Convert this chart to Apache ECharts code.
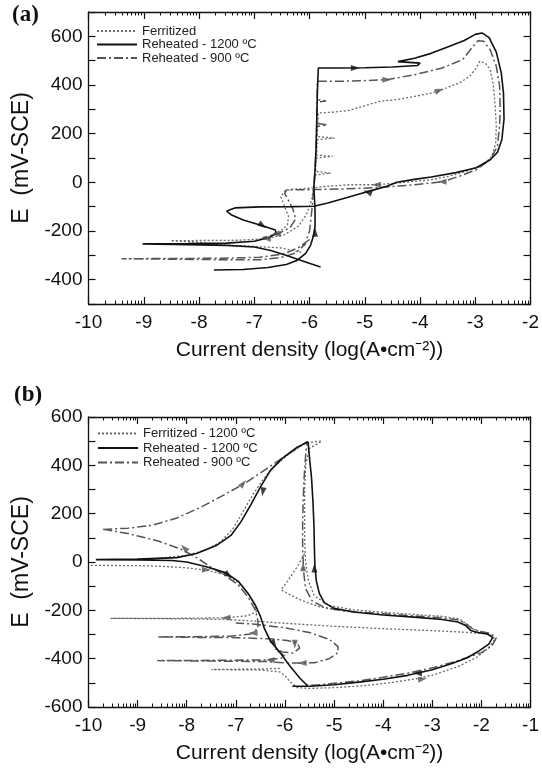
<!DOCTYPE html>
<html>
<head>
<meta charset="utf-8">
<script src="https://cdn.jsdelivr.net/npm/echarts@6/dist/echarts.min.js"></script>
<style>
html, body { margin: 0; padding: 0; background: #fff; }
#wrap { position: relative; width: 542px; height: 772px; }
#chartA { position: absolute; left: 0; top: 0; width: 542px; height: 386px; }
#chartB { position: absolute; left: 0; top: 386px; width: 542px; height: 386px; }
</style>
</head>
<body>
<div id="wrap">
  <div id="chartA"></div>
  <div id="chartB"></div>
</div>
<script>
// ---- axis labels ----
var yLabelsA = [-400, -200, 0, 200, 400, 600];
var yLabelsB = [-600, -400, -200, 0, 200, 400, 600];

// ---- panel (a) : [log i, E] ----
var reheated1200A = [
  [-7.73,-360],[-7.2,-358],[-6.75,-350],[-6.42,-338],[-6.22,-320],[-6.07,-292],[-5.98,-258],[-5.93,-222],
  [-5.9,-180],[-5.9,-120],[-5.91,-70],[-5.92,-20],[-5.9,50],[-5.88,150],[-5.87,250],[-5.86,350],[-5.85,420],
  [-5.84,470],[-5.5,470],[-5.0,471],[-4.5,474],[-4.05,480],[-4.0,490],[-4.4,496],[-4.1,510],[-3.8,530],
  [-3.5,556],[-3.2,583],[-3.0,608],[-2.88,614],[-2.75,595],[-2.62,535],[-2.53,450],[-2.49,367],[-2.48,260],
  [-2.52,175],[-2.6,123],[-2.73,93],[-2.98,60],[-3.35,40],[-3.8,22],[-4.1,12],[-4.42,0],[-4.6,-16],
  [-4.85,-32],[-5.1,-48],[-5.35,-64],[-5.67,-85],[-5.92,-98],[-6.3,-100],[-6.9,-101],[-7.35,-105],
  [-7.5,-118],[-7.42,-133],[-7.2,-155],[-6.85,-178],[-6.62,-196],[-6.6,-210],[-6.75,-228],[-7.0,-242],
  [-7.5,-250],[-8.2,-252],[-9.02,-253],[-8.2,-256],[-7.5,-259],[-7.0,-266],[-6.7,-280],[-6.4,-302],
  [-6.1,-325],[-5.8,-348]
];
var reheated900A = [
  [-6.0,-235],[-6.2,-268],[-6.45,-293],[-6.9,-308],[-7.6,-312],[-8.5,-313],[-9.4,-314],[-8.5,-316],
  [-7.6,-318],[-6.9,-318],[-6.5,-308],[-6.25,-290],[-6.08,-255],[-6.0,-200],[-5.96,-120],[-5.93,-40],
  [-5.9,50],[-5.88,150],[-5.87,230],[-5.68,236],[-5.87,242],[-5.86,330],[-5.7,334],[-5.86,340],
  [-5.86,415],[-5.5,415],[-5.0,418],[-4.6,422],[-4.1,442],[-3.6,470],[-3.23,504],[-3.04,559],[-2.95,582],
  [-2.85,580],[-2.73,545],[-2.62,477],[-2.56,395],[-2.55,300],[-2.56,230],[-2.6,148],[-2.73,93],
  [-2.98,52],[-3.29,25],[-3.6,2],[-4.1,-10],[-4.73,-21],[-5.35,-27],[-5.98,-30],[-6.41,-30],[-6.45,-45],
  [-6.38,-75],[-6.3,-110],[-6.25,-150],[-6.35,-185],[-6.55,-210],[-6.85,-228]
];
var ferritizedA = [
  [-6.15,-288],[-6.5,-270],[-7.0,-263],[-7.6,-258],[-8.0,-246],[-8.51,-240],[-8.0,-239],[-7.3,-238],
  [-6.8,-232],[-6.45,-215],[-6.2,-180],[-6.05,-130],[-5.96,-70],[-5.92,-10],[-5.9,30],[-5.62,38],
  [-5.89,45],[-5.88,100],[-5.58,107],[-5.87,112],[-5.86,175],[-5.55,182],[-5.86,188],[-5.85,240],
  [-5.84,285],[-5.6,288],[-5.3,295],[-5.04,312],[-4.73,333],[-4.42,340],[-4.1,353],[-3.79,367],
  [-3.6,381],[-3.48,392],[-3.29,408],[-3.1,436],[-2.98,470],[-2.92,497],[-2.82,490],[-2.73,463],
  [-2.67,395],[-2.64,312],[-2.62,230],[-2.63,162],[-2.7,107],[-2.85,73],[-3.17,45],[-3.48,25],
  [-3.79,11],[-4.1,4],[-4.42,-3],[-4.79,-10],[-5.29,-10],[-5.67,-16],[-5.98,-24],[-6.3,-28],
  [-6.45,-35],[-6.52,-60],[-6.45,-100],[-6.38,-140],[-6.4,-175],[-6.5,-195],[-6.68,-215]
];

// ---- panel (b) ----
var reheated1200B = [
  [-5.85,-514],[-5.49,-514],[-5.0,-508],[-4.5,-497],[-4.0,-485],[-3.5,-469],[-3.0,-446],[-2.6,-420],
  [-2.3,-397],[-2.05,-368],[-1.85,-340],[-1.77,-312],[-1.88,-298],[-2.08,-292],[-2.22,-283],[-2.32,-263],
  [-2.48,-248],[-2.8,-238],[-3.3,-229],[-4.0,-219],[-4.6,-207],[-5.0,-192],[-5.2,-168],[-5.3,-130],
  [-5.36,-80],[-5.39,-20],[-5.4,50],[-5.41,150],[-5.43,250],[-5.46,350],[-5.5,430],[-5.53,497],
  [-5.75,475],[-6.05,430],[-6.3,378],[-6.5,310],[-6.7,235],[-6.9,165],[-7.1,110],[-7.4,68],[-7.8,35],
  [-8.2,18],[-9.0,12],[-9.85,10],[-9.0,8],[-8.3,6],[-8.0,0],[-7.6,-20],[-7.2,-45],[-6.95,-80],
  [-6.75,-130],[-6.6,-180],[-6.5,-225],[-6.42,-275],[-6.3,-325],[-6.1,-375],[-5.9,-430],[-5.7,-480],
  [-5.55,-510]
];
var reheated900B = [
  [-9.7,135],[-9.2,140],[-8.7,152],[-8.2,182],[-7.7,228],[-7.2,282],[-6.8,328],[-6.4,382],[-6.0,438],
  [-5.7,478],[-5.55,498],[-5.58,440],[-5.61,350],[-5.63,250],[-5.64,150],[-5.64,50],[-5.62,-40],
  [-5.58,-110],[-5.45,-160],[-5.2,-188],[-4.8,-203],[-4.0,-214],[-3.3,-224],[-2.8,-231],[-2.45,-240],
  [-2.3,-258],[-2.18,-277],[-2.0,-288],[-1.8,-297],[-1.7,-315],[-1.78,-345],[-2.0,-375],[-2.5,-410],
  [-3.0,-438],[-3.5,-460],[-4.0,-477],[-4.5,-492],[-5.0,-502],[-5.4,-510],[-5.6,-508]
];
var reheated900B2 = [
  [-9.7,135],[-9.2,118],[-8.6,88],[-8.1,52],[-7.8,18],[-7.5,-22],[-7.2,-58],[-6.95,-95],[-6.75,-145],
  [-6.6,-200],[-6.55,-245],[-6.55,-275],[-6.7,-298],[-7.1,-307],[-7.8,-309],[-8.6,-310],[-7.8,-312],
  [-7.0,-313],[-6.3,-318],[-5.95,-325],[-5.75,-335],[-5.7,-356],[-5.84,-377],[-6.05,-372],[-6.2,-360],
  [-6.0,-390],[-6.1,-400],[-6.4,-405],[-7.5,-407],[-8.6,-408],[-7.5,-410],[-6.4,-412],[-5.9,-418],
  [-5.4,-417],[-5.1,-400],[-4.92,-375],[-4.92,-350],[-5.1,-320],[-5.5,-292],[-6.0,-272],[-6.6,-258],
  [-7.0,-252]
];
var ferritizedB = [
  [-9.95,-14],[-9.0,-15],[-8.5,-18],[-8.0,-24],[-7.6,-34],[-7.2,-52],[-6.95,-85],[-6.75,-130],
  [-6.62,-175],[-6.58,-205],[-6.75,-222],[-7.2,-231],[-8.2,-233],[-9.55,-233],[-8.2,-235],[-7.2,-238],
  [-6.6,-245],[-5.9,-255],[-5.0,-266],[-4.0,-276],[-3.0,-284],[-2.3,-291],[-1.85,-298],[-1.72,-318],
  [-1.85,-355],[-2.1,-395],[-2.5,-435],[-3.0,-468],[-3.3,-482],[-3.8,-498],[-4.4,-512],[-5.0,-520],
  [-5.5,-523],[-5.75,-520],[-5.9,-495],[-6.0,-470],[-6.1,-455],[-6.5,-447],[-7.5,-445],[-6.5,-443],
  [-6.1,-440]
];
var ferritizedB2 = [
  [-8.6,15],[-8.0,28],[-7.6,50],[-7.3,85],[-7.05,140],[-6.85,210],[-6.65,280],[-6.45,340],[-6.2,400],
  [-5.9,450],[-5.6,490],[-5.4,498],[-5.25,500],[-5.5,470],[-5.58,400],[-5.6,300],[-5.6,200],[-5.6,100],
  [-5.58,0],[-5.52,-80],[-5.4,-140],[-5.1,-180],[-4.6,-198],[-4.0,-208],[-3.3,-218],[-2.8,-225],
  [-2.45,-235],[-2.25,-265],[-2.1,-285],[-1.9,-295]
];
var ferritizedB3 = [
  [-5.6,35],[-5.75,-20],[-5.95,-80],[-6.08,-115],[-5.9,-135],[-5.65,-160],[-5.3,-185],[-4.9,-200]
];

// ---- arrow heads : [log i, E, direction in degrees] ----
var arrowsBlackA = [[-5.17,470,0],[-4.95,-40,160],[-6.85,-178,-35],[-5.9,-205,90]];
var arrowsGreyA = [[-4.6,422,0],[-3.6,2,180],[-3.65,378,20],[-4.79,-10,180],[-6.6,-212,180],[-6.78,-232,180]];
var arrowsBlackB = [[-6.45,290,-100],[-5.4,-25,90],[-7.15,-55,-40],[-6.22,-340,-60],[-3.3,-460,175]];
var arrowsGreyB = [[-6.85,325,50],[-5.63,-20,90],[-7.6,-32,0],[-8.05,58,135],[-7.2,-231,180],
  [-6.65,-294,180],[-6.3,-405,180],[-5.65,-418,180],[-3.2,-484,10],[-5.8,-340,-90]];

function logMinor(from, to) {
  var out = [];
  for (var d = from; d < to; d++) {
    for (var k = 2; k <= 9; k++) out.push(d + Math.log10(k));
  }
  return out;
}

var FONT = "'Liberation Sans', Arial, sans-serif";
var INK = '#111';

function xAxes(min, max, pos) {
  var main = {
    type: 'value', min: min, max: max, interval: 1, position: pos,
    axisLine: { show: true, onZero: false, lineStyle: { color: INK, width: 1.3 } },
    splitLine: { show: false },
    axisTick: { show: true, inside: true, length: 7, lineStyle: { color: INK, width: 1.2 } },
    axisLabel: { show: pos === 'bottom', fontSize: 19, margin: 9, color: INK, fontFamily: FONT }
  };
  if (pos === 'bottom') {
    main.name = 'Current density (log(A\u2022cm\u207B\u00B2))';
    main.nameLocation = 'middle';
    main.nameGap = 36;
    main.nameTextStyle = { fontSize: 21, color: INK, fontFamily: FONT };
  }
  var sub = {
    type: 'value', min: min, max: max, position: pos,
    axisLine: { show: false, onZero: false }, splitLine: { show: false }, axisLabel: { show: false },
    axisTick: { show: true, inside: true, length: 3.5, customValues: logMinor(min, max),
      lineStyle: { color: INK, width: 1 } }
  };
  return [main, sub];
}

function yAxis(min, max, labels, pos) {
  var ax = {
    type: 'value', min: min, max: max, interval: 100, position: pos,
    axisLine: { show: true, onZero: false, lineStyle: { color: INK, width: 1.3 } },
    splitLine: { show: false },
    axisTick: { show: true, inside: true, length: 7, lineStyle: { color: INK, width: 1.2 } },
    axisLabel: { show: pos === 'left', fontSize: 19, margin: 6, color: INK, fontFamily: FONT,
      formatter: function (v) { return labels.indexOf(v) >= 0 ? String(v) : ''; } }
  };
  if (pos === 'left') {
    ax.name = 'E  (mV-SCE)';
    ax.nameLocation = 'middle';
    ax.nameRotate = 90;
    ax.nameGap = 53;
    ax.nameTextStyle = { fontSize: 23, color: INK, fontFamily: FONT };
  }
  return ax;
}

var solidStyle = { color: '#111', width: 1.6, type: 'solid' };
var dotStyle = { color: '#6a6a6a', width: 1.3, type: [2, 2] };
var dashDotStyle = { color: '#555', width: 1.5, type: [9, 3, 2, 3] };

function curve(name, data, style, z) {
  return {
    name: name, type: 'line', data: data, symbol: 'none', showSymbol: false,
    lineStyle: style, itemStyle: { color: style.color }, z: z, animation: false
  };
}

function arrows(list, color) {
  return {
    type: 'scatter', symbol: 'triangle', symbolSize: [6, 9],
    silent: true, z: 6, itemStyle: { color: color }, animation: false,
    data: list.map(function (a) { return { value: [a[0], a[1]], symbolRotate: a[2] - 90 }; })
  };
}

function panel(opts) {
  return {
    backgroundColor: '#fff',
    animation: false,
    grid: { left: 88.5, right: 9, top: opts.top, height: opts.height },
    xAxis: [].concat(xAxes(-10, opts.xMax, 'bottom'), xAxes(-10, opts.xMax, 'top')),
    yAxis: [yAxis(opts.yMin, opts.yMax, opts.yLabels, 'left'), yAxis(opts.yMin, opts.yMax, opts.yLabels, 'right')],
    legend: {
      orient: 'vertical', padding: 0, itemWidth: 40, itemHeight: 10,
      left: opts.legendLeft, top: opts.legendTop, itemGap: opts.legendGap,
      itemStyle: { opacity: 0 },
      textStyle: { fontSize: 13, lineHeight: 12, color: '#222', fontFamily: FONT },
      data: opts.legend
    },
    graphic: [{ type: 'text', left: opts.tagLeft, top: opts.tagTop,
      style: { text: opts.tag, font: 'bold 23px "Liberation Serif", serif', fill: INK } }],
    series: opts.series
  };
}

var nameF = 'Ferritized', nameFB = 'Ferritized - 1200 \u00BAC';
var name12 = 'Reheated - 1200 \u00BAC', name9 = 'Reheated - 900 \u00BAC';

var chartA = echarts.init(document.getElementById('chartA'));
chartA.setOption(panel({
  top: 12, height: 292, xMax: -2, yMin: -500, yMax: 700, yLabels: yLabelsA,
  legendLeft: 96, legendTop: 24.5, legendGap: 0.5, legend: [nameF, name12, name9],
  tag: '(a)', tagLeft: 12, tagTop: 4,
  series: [
    curve(nameF, ferritizedA, dotStyle, 2),
    curve(name9, reheated900A, dashDotStyle, 3),
    curve(name12, reheated1200A, solidStyle, 4),
    arrows(arrowsBlackA, '#111'),
    arrows(arrowsGreyA, '#555')
  ]
}));

var chartB = echarts.init(document.getElementById('chartB'));
chartB.setOption(panel({
  top: 31, height: 290, xMax: -1, yMin: -600, yMax: 600, yLabels: yLabelsB,
  legendLeft: 97, legendTop: 41, legendGap: 1.5, legend: [nameFB, name12, name9],
  tag: '(b)', tagLeft: 14, tagTop: -2,
  series: [
    curve(nameFB, ferritizedB, dotStyle, 2),
    curve(nameFB, ferritizedB2, dotStyle, 2),
    curve(nameFB, ferritizedB3, dotStyle, 2),
    curve(name9, reheated900B, dashDotStyle, 3),
    curve(name9, reheated900B2, dashDotStyle, 3),
    curve(name12, reheated1200B, solidStyle, 4),
    arrows(arrowsBlackB, '#111'),
    arrows(arrowsGreyB, '#555')
  ]
}));
</script>
</body>
</html>
